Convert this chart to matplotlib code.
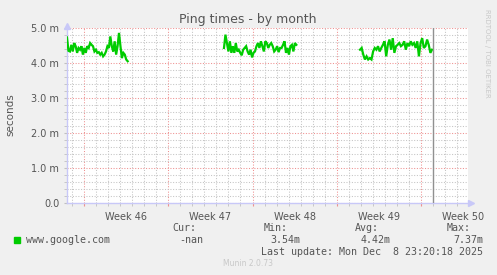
import numpy as np
import matplotlib
matplotlib.use('Agg')
import matplotlib.pyplot as plt
from matplotlib.ticker import MultipleLocator, FuncFormatter
from matplotlib.patches import Rectangle
import matplotlib.transforms as mtransforms

# time axis in days since Mon Nov 10 2025 00:00 (start of week 46)
x_range = (-1.41, 31.9)
week_starts = [0, 7, 14, 21, 28]
week_labels = ['Week 46', 'Week 47', 'Week 48', 'Week 49', 'Week 50']
now_day = 28.97

# ping samples (ms), three runs with gaps between them
seg1_span = (-1.41, 3.63)
seg1_ms = [4.73, 4.35, 4.33, 4.52, 4.33, 4.57, 4.48, 4.29, 4.43, 4.38, 4.48, 4.24,
           4.43, 4.29, 4.48, 4.43, 4.57, 4.52, 4.48, 4.33, 4.38, 4.29, 4.31, 4.24,
           4.29, 4.19, 4.24, 4.33, 4.48, 4.43, 4.76, 4.48, 4.33, 4.62, 4.24, 4.48,
           4.86, 4.48, 4.14, 4.29, 4.24, 4.10, 4.05]
seg2_span = (11.63, 17.64)
seg2_ms = [4.43, 4.81, 4.57, 4.33, 4.62, 4.29, 4.48, 4.29, 4.57, 4.33, 4.38, 4.29,
           4.22, 4.38, 4.43, 4.48, 4.33, 4.24, 4.38, 4.16, 4.29, 4.33, 4.48, 4.57,
           4.43, 4.62, 4.48, 4.33, 4.62, 4.57, 4.43, 4.52, 4.57, 4.48, 4.33, 4.38,
           4.48, 4.31, 4.43, 4.43, 4.52, 4.62, 4.29, 4.43, 4.24, 4.48, 4.52, 4.33,
           4.57, 4.52]
seg3_span = (22.93, 28.91)
seg3_ms = [4.38, 4.43, 4.24, 4.10, 4.19, 4.10, 4.14, 4.10, 4.33, 4.43, 4.38, 4.48,
           4.33, 4.43, 4.52, 4.62, 4.19, 4.52, 4.67, 4.38, 4.71, 4.29, 4.48, 4.52,
           4.57, 4.48, 4.52, 4.62, 4.38, 4.57, 4.48, 4.62, 4.52, 4.57, 4.43, 4.62,
           4.19, 4.57, 4.71, 4.43, 4.48, 4.67, 4.52, 4.29, 4.38]

W, H = 497, 275
GREEN = '#00cc00'
TXT = '#555555'
AXC = '#c8c8f8'

fig = plt.figure(figsize=(W / 100, H / 100), dpi=100, facecolor='#f0f0f0')
ax = fig.add_axes([67 / W, 72 / H, 401 / W, 175 / H], facecolor='white')

for span, vals in [(seg1_span, seg1_ms), (seg2_span, seg2_ms), (seg3_span, seg3_ms)]:
    t = np.linspace(span[0], span[1], len(vals))
    ax.plot(t, vals, color=GREEN, lw=1.6, zorder=3, solid_joinstyle='miter')

ax.axvline(now_day, color='#909090', lw=1, zorder=4)

ax.set_xlim(*x_range)
ax.set_ylim(0, 5)

ax.xaxis.set_major_locator(plt.FixedLocator(week_starts))
ax.xaxis.set_minor_locator(MultipleLocator(1))
ax.xaxis.set_major_formatter(plt.NullFormatter())
ax.yaxis.set_major_locator(MultipleLocator(1))
ax.yaxis.set_minor_locator(MultipleLocator(0.2))
ax.yaxis.set_major_formatter(FuncFormatter(lambda v, p: '0.0' if v == 0 else '%.1f m' % v))

ax.grid(which='minor', color='#c4c4c4', lw=0.75, linestyle=(0, (1, 1.6)), zorder=1)
ax.grid(which='major', color='#ee9090', lw=0.75, linestyle=(0, (1, 1.6)), zorder=2)
ax.set_axisbelow(True)

ax.tick_params(axis='y', which='both', length=2.5, color='#c0c0c0', labelsize=7,
               labelcolor=TXT, pad=3)
ax.tick_params(axis='x', which='minor', length=2, color='#c0c0c0')
ax.tick_params(axis='x', which='major', length=2, color='#ee9090')

for s in ['top', 'right']:
    ax.spines[s].set_visible(False)
for s in ['left', 'bottom']:
    ax.spines[s].set_color(AXC)
    ax.spines[s].set_linewidth(1)

# axis arrows
ax.plot([0], [1.01], marker='^', color=AXC, ms=4, transform=ax.transAxes, clip_on=False)
ax.plot([1.008], [0], marker='>', color=AXC, ms=4, transform=ax.transAxes, clip_on=False)

trans = mtransforms.blended_transform_factory(ax.transData, ax.transAxes)
for ws, lab in zip(week_starts, week_labels):
    ax.text(ws + 3.5, -0.05, lab, transform=trans, ha='center', va='top',
            fontsize=7, color=TXT)

fig.text(248 / W, 1 - 19 / H, 'Ping times - by month', ha='center', va='center',
         fontsize=9, color=TXT)
fig.text(10 / W, 1 - 115 / H, 'seconds', rotation=90, ha='center', va='center',
         fontsize=7.5, color=TXT)
fig.text(487 / W, 1 - 53 / H, 'RRDTOOL / TOBI OETIKER', rotation=270, ha='center',
         va='center', fontsize=5, color='#c8c8c8')

mono = dict(family='DejaVu Sans Mono', fontsize=7.2, color=TXT, va='center')
fig.patches.append(Rectangle((14 / W, 1 - 243 / H), 6 / W, 6 / H, color=GREEN,
                             transform=fig.transFigure, figure=fig))
fig.text(26 / W, 1 - 240 / H, 'www.google.com', ha='left', **mono)
fig.text(172 / W, 1 - 228 / H, 'Cur:', ha='left', **mono)
fig.text(179 / W, 1 - 240 / H, '-nan', ha='left', **mono)
fig.text(264 / W, 1 - 228 / H, 'Min:', ha='left', **mono)
fig.text(270 / W, 1 - 240 / H, '3.54m', ha='left', **mono)
fig.text(355 / W, 1 - 228 / H, 'Avg:', ha='left', **mono)
fig.text(361 / W, 1 - 240 / H, '4.42m', ha='left', **mono)
fig.text(447 / W, 1 - 228 / H, 'Max:', ha='left', **mono)
fig.text(483 / W, 1 - 240 / H, '7.37m', ha='right', **mono)
fig.text(483 / W, 1 - 252 / H, 'Last update: Mon Dec  8 23:20:18 2025', ha='right', **mono)
fig.text(248 / W, 1 - 264 / H, 'Munin 2.0.73', ha='center', va='center',
         fontsize=5.5, color='#c8c8c8')

fig.savefig('out.png', dpi=100, facecolor=fig.get_facecolor())
